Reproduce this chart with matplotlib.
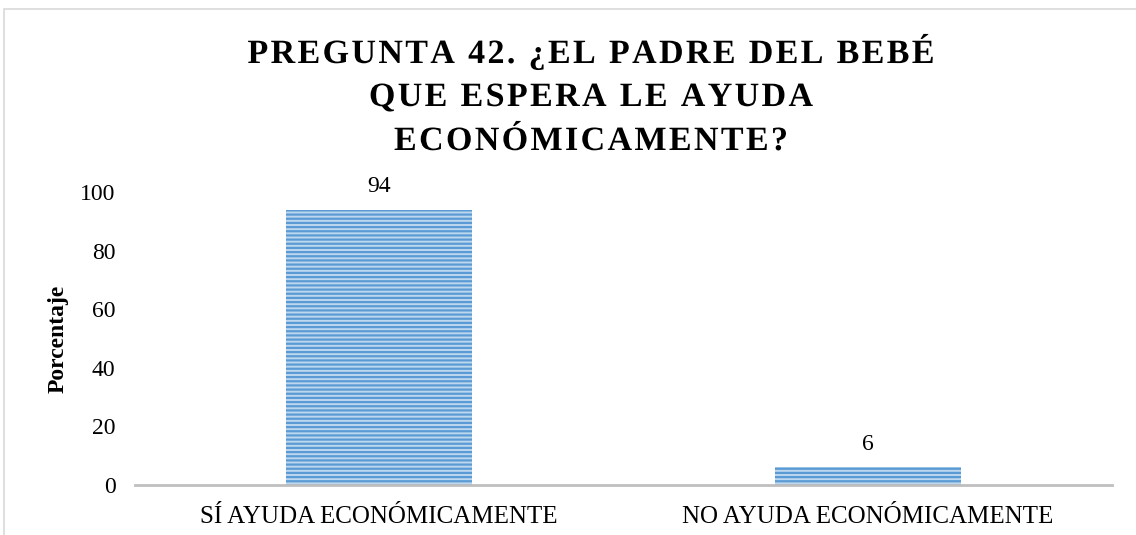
import matplotlib.pyplot as plt
from matplotlib.patches import Rectangle, PathPatch
from matplotlib.textpath import TextPath, TextToPath
from matplotlib.font_manager import FontProperties
from matplotlib.transforms import Affine2D, IdentityTransform

categories = ["SÍ AYUDA ECONÓMICAMENTE", "NO AYUDA ECONÓMICAMENTE"]
values = [94, 6]
title_lines = ["PREGUNTA 42. ¿EL PADRE DEL BEBÉ", "QUE ESPERA LE AYUDA", "ECONÓMICAMENTE?"]

W, H = 1136, 535

plt.rcParams["font.family"] = ["Liberation Serif", "DejaVu Serif"]
plt.rcParams["hatch.linewidth"] = 1.6

fig = plt.figure(figsize=(W / 100, H / 100), dpi=100)
ax = fig.add_axes([135 / W, 1 - 485 / H, 977 / W, 293 / H])

# chart border
fig.patches.append(Rectangle((4 / W, -0.1), 1.2, 1 - 9 / H + 0.1,
                             transform=fig.transFigure, fill=False,
                             edgecolor="#D9D9D9", linewidth=1.2))

x = range(len(categories))
bars = ax.bar(x, values, width=0.38, color="#BDD7EE", edgecolor="#5B9BD5",
              hatch="----", linewidth=0)
for b, v in zip(bars, values):
    ax.annotate(str(v), (b.get_x() + b.get_width() / 2, v), xytext=(0, 9),
                textcoords="offset points", ha="center", va="bottom", fontsize=17)

ax.set_xlim(-0.5, 1.5)
ax.set_ylim(0, 100)
ax.set_yticks(range(0, 101, 20))
ax.set_xticks(list(x))
ax.set_xticklabels(categories, fontsize=18)
ax.tick_params(axis="y", labelsize=17, length=0, pad=14)
ax.tick_params(axis="x", length=0, pad=15)
ax.set_ylabel("Porcentaje", fontsize=17, fontweight="bold", labelpad=8)
for s in ["top", "right", "left"]:
    ax.spines[s].set_visible(False)
ax.spines["bottom"].set_color("#BFBFBF")
ax.spines["bottom"].set_linewidth(2)

# title: bold serif with wide letter spacing, drawn glyph by glyph
fp = FontProperties(family="Liberation Serif", weight="bold", size=34)
t2p = TextToPath()
target_w = 687
cx = 591
baselines = [H - 63, H - 106, H - 150]


def char_adv(ch):
    w, h, d = t2p.get_text_width_height_descent(ch, fp, ismath=False)
    return w


advs0 = [char_adv(c) for c in title_lines[0]]
track = (target_w - sum(advs0)) / (len(advs0) - 1)

for line, yb in zip(title_lines, baselines):
    advs = [char_adv(c) for c in line]
    total = sum(advs) + track * (len(advs) - 1)
    xpos = cx - total / 2
    for ch, a in zip(line, advs):
        if ch != " ":
            tp = TextPath((0, 0), ch, prop=fp)
            tr = Affine2D().translate(xpos, yb)
            fig.patches.append(PathPatch(tr.transform_path(tp), facecolor="black",
                                         edgecolor="none", transform=IdentityTransform()))
        xpos += a + track

fig.savefig("out.png", dpi=100)
